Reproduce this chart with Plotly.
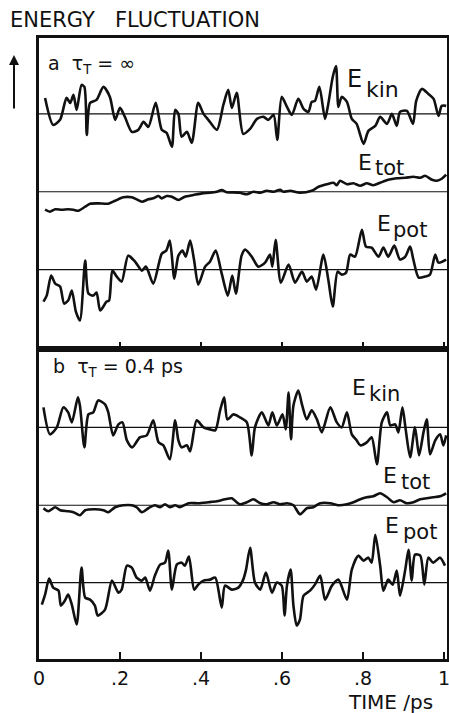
import plotly.graph_objects as go

# ---------------- data (time in ps, energy deviation in arbitrary units) ----------------
a_kin_t = [0.015,0.035,0.052,0.068,0.077,0.085,0.093,0.105,0.112,0.118,0.126,0.142,0.159,0.175,0.188,0.200,0.212,0.229,0.245,0.258,0.270,0.288,0.303,0.315,0.328,0.336,0.344,0.352,0.365,0.377,0.393,0.406,0.418,0.439,0.455,0.467,0.476,0.488,0.504,0.521,0.538,0.554,0.566,0.579,0.588,0.599,0.612,0.624,0.640,0.653,0.665,0.673,0.681,0.692,0.706,0.714,0.725,0.733,0.739,0.747,0.760,0.772,0.784,0.801,0.813,0.830,0.842,0.859,0.871,0.883,0.891,0.908,0.923,0.931,0.945,0.961,0.974,0.986,0.994,1.005]
a_kin_v = [16,-11,-6,16,11,19,4,29,27,-21,11,14,27,17,-6,6,-3,-18,-16,-8,-13,11,-16,-19,-33,4,0,-23,-18,-29,11,0,-6,-16,9,24,6,21,-20,-15,-5,-3,-6,-1,-26,17,7,-1,15,5,2,12,13,27,-5,10,37,48,7,17,12,-5,-10,-30,-17,-12,-3,-10,0,-12,2,3,-10,13,25,20,15,-2,8,8]

a_tot_t = [0.015,0.027,0.040,0.056,0.072,0.085,0.097,0.114,0.126,0.146,0.171,0.188,0.208,0.229,0.241,0.254,0.270,0.282,0.295,0.303,0.315,0.328,0.344,0.360,0.381,0.402,0.422,0.439,0.451,0.463,0.480,0.496,0.513,0.529,0.546,0.562,0.579,0.595,0.603,0.620,0.644,0.673,0.690,0.710,0.727,0.735,0.743,0.760,0.776,0.793,0.809,0.825,0.842,0.862,0.883,0.904,0.924,0.941,0.953,0.970,0.982,0.994,1.005]
a_tot_v = [-18,-20,-17.6,-18,-17.6,-18,-19,-15,-12,-11.6,-12,-9,-5.6,-5.6,-7.6,-10,-7.6,-6.6,-4.3,-6.6,-4.3,-5,-8.3,-5,-3.3,-1.6,-1,0,1.7,-0.6,-0.6,-1,-2.5,0,-1,1,0,2,0,1,-1,1,5,7.5,9,6.5,11,7.5,8.5,6,8.5,6.5,9,12,13.5,14,15,14,16,12,11,13,17]

a_pot_t = [0.011,0.019,0.030,0.040,0.052,0.062,0.072,0.081,0.091,0.101,0.114,0.122,0.134,0.142,0.151,0.167,0.173,0.181,0.192,0.204,0.220,0.237,0.254,0.264,0.282,0.303,0.314,0.323,0.334,0.344,0.354,0.362,0.373,0.383,0.393,0.410,0.422,0.436,0.451,0.466,0.477,0.486,0.500,0.509,0.525,0.541,0.558,0.570,0.576,0.584,0.597,0.616,0.632,0.649,0.661,0.673,0.684,0.702,0.714,0.725,0.737,0.747,0.758,0.768,0.780,0.797,0.807,0.821,0.838,0.850,0.862,0.877,0.891,0.904,0.916,0.924,0.937,0.953,0.965,0.978,0.986,1.005]
a_pot_v = [-32,-26,-6,-14,-17,-34,-31,-21,-42,-51,9,-24,-26,-23,-41,-32,-31,-1,-7,-12,14,8,-1,3,-14,16,19,29,-9,14,19,13,29,9,-15,3,8,19,-4,-26,-6,-24,14,20,13,3,7,15,3,30,-13,5,-13,-2,-12,-7,-20,15,-10,-37,-2,-5,-3,15,13,40,23,22,13,22,13,24,10,13,23,10,-8,-7,-5,15,7,10]

b_kin_t = [0.011,0.027,0.044,0.060,0.072,0.081,0.096,0.101,0.112,0.122,0.134,0.146,0.163,0.171,0.183,0.196,0.206,0.217,0.230,0.249,0.266,0.282,0.295,0.307,0.323,0.336,0.344,0.352,0.365,0.373,0.389,0.406,0.422,0.435,0.447,0.457,0.465,0.480,0.496,0.513,0.525,0.533,0.550,0.566,0.576,0.587,0.601,0.609,0.616,0.622,0.628,0.640,0.649,0.661,0.673,0.686,0.698,0.719,0.735,0.747,0.760,0.772,0.784,0.793,0.809,0.821,0.834,0.846,0.859,0.867,0.879,0.887,0.897,0.905,0.916,0.928,0.938,0.949,0.957,0.965,0.978,0.990,0.998,1.005]
b_kin_v = [20,-7,0,20,15,5,30,22,-20,13,15,27,23,15,-8,3,5,-13,-20,-10,-8,7,-15,-18,-32,7,-13,-20,-18,-24,7,0,-2,-3,17,30,8,13,10,5,-28,0,15,2,15,2,13,-2,35,-12,22,37,23,8,17,8,-5,20,5,0,15,-7,-13,-18,-15,-10,-37,5,15,2,3,-5,20,-2,-30,0,-28,-5,8,-27,-13,-7,-18,-8]

b_tot_t = [0.011,0.023,0.040,0.052,0.072,0.085,0.101,0.114,0.138,0.159,0.171,0.188,0.208,0.229,0.241,0.254,0.270,0.286,0.299,0.311,0.323,0.336,0.348,0.369,0.393,0.418,0.439,0.459,0.476,0.488,0.496,0.513,0.529,0.546,0.562,0.579,0.595,0.612,0.628,0.644,0.661,0.677,0.694,0.719,0.739,0.760,0.776,0.793,0.809,0.825,0.842,0.859,0.875,0.891,0.908,0.924,0.941,0.957,0.973,0.990,1.005]
b_tot_v = [-3,-6,-2,-5,-6,-7,-10,-5,-4,-5,-7,-2,0,0,-2,-7,-3,0,-2,1,-2,0,-2,2,2,3,4,6,7,3,1,3,6,2,1,3,1,2,0,-9,-3,-2,2,2,0,1,3,6,8,9,12,8,3,5,2,3,6,7,8,9,12]

b_pot_t = [0.007,0.015,0.025,0.035,0.048,0.054,0.064,0.072,0.081,0.093,0.105,0.114,0.126,0.138,0.145,0.163,0.180,0.196,0.204,0.217,0.229,0.241,0.254,0.262,0.274,0.286,0.299,0.311,0.319,0.328,0.340,0.352,0.360,0.370,0.383,0.393,0.406,0.422,0.435,0.451,0.459,0.476,0.492,0.504,0.511,0.521,0.533,0.546,0.560,0.575,0.587,0.599,0.606,0.612,0.621,0.628,0.636,0.644,0.653,0.669,0.681,0.694,0.706,0.723,0.739,0.760,0.772,0.788,0.801,0.813,0.821,0.830,0.842,0.850,0.862,0.873,0.883,0.891,0.904,0.912,0.920,0.928,0.941,0.951,0.961,0.973,0.990,1.002]
b_pot_v = [-22,-12,4,-5,-8,-23,-18,-12,-22,-42,15,-15,-17,-23,-33,-27,2,-10,-7,17,15,5,2,5,-8,7,18,20,32,-7,18,20,17,26,-7,-2,2,3,5,-25,-3,-7,-5,3,13,35,0,-7,10,-10,0,-3,-33,-3,13,-23,-43,-37,-13,-8,-2,7,-17,-3,3,-17,13,27,22,25,20,48,17,-8,3,-2,12,-13,13,33,2,28,27,-2,25,20,25,17]

x_tick_vals = [0, 0.2, 0.4, 0.6, 0.8, 1.0]
x_tick_text = ["0", ".2", ".4", ".6", ".8", "1"]

# ---------------- layout constants ----------------
W, H = 449, 713
L, R, T, B = 39, 2, 38, 54
PW, PH = W - L - R, H - T - B
FONT = "DejaVu Sans"
INK = "#111111"

# baseline offsets inside each panel (panel y range 0..311)
off_a = {"kin": 235, "tot": 157, "pot": 79}
off_b = {"kin": 232, "tot": 154, "pot": 76.5}

fig = go.Figure()

def add_curve(t, v, off, yaxis):
    fig.add_trace(go.Scatter(
        x=t, y=[off + d for d in v], mode="lines", yaxis=yaxis, xaxis="x",
        line=dict(color=INK, width=2.6, shape="spline", smoothing=0.7),
        hoverinfo="skip", showlegend=False))

for yax, off in (("y", off_a), ("y2", off_b)):
    for k in ("kin", "tot", "pot"):
        fig.add_shape(type="line", xref="x", yref=yax, x0=0, x1=1.007, y0=off[k], y1=off[k],
                      line=dict(color=INK, width=1.2))

add_curve(a_kin_t, a_kin_v, off_a["kin"], "y")
add_curve(a_tot_t, a_tot_v, off_a["tot"], "y")
add_curve(a_pot_t, a_pot_v, off_a["pot"], "y")
add_curve(b_kin_t, b_kin_v, off_b["kin"], "y2")
add_curve(b_tot_t, b_tot_v, off_b["tot"], "y2")
add_curve(b_pot_t, b_pot_v, off_b["pot"], "y2")

fig.update_layout(
    width=W, height=H, margin=dict(l=L, r=R, t=T, b=B, autoexpand=False),
    paper_bgcolor="white", plot_bgcolor="white",
    font=dict(family=FONT, color=INK),
    xaxis=dict(range=[0, 1.007], domain=[0, 1], anchor="y2", showgrid=False, zeroline=False,
               showline=True, linecolor=INK, linewidth=2.5, mirror=True, automargin=False,
               tickvals=x_tick_vals, ticktext=x_tick_text, ticks="inside", ticklen=7,
               tickwidth=1.5, tickcolor=INK, tickfont=dict(size=19, family=FONT, color=INK),
               ticklabeloverflow="allow"),
    xaxis2=dict(range=[0, 1.007], domain=[0, 1], anchor="y", overlaying="x", showgrid=False,
                zeroline=False, showline=True, linecolor=INK, linewidth=2.5, mirror=True,
                automargin=False,
                tickvals=x_tick_vals, ticks="inside", ticklen=7, tickwidth=1.5, tickcolor=INK,
                showticklabels=False),
    yaxis=dict(range=[0, 311], domain=[0.5, 1], showgrid=False, zeroline=False, automargin=False,
               showline=True, linecolor=INK, linewidth=2.5, mirror=True, showticklabels=False,
               ticks=""),
    yaxis2=dict(range=[0, 311], domain=[0, 0.5], showgrid=False, zeroline=False, automargin=False,
                showline=True, linecolor=INK, linewidth=2.5, mirror=True, showticklabels=False,
                ticks=""),
)
# invisible trace so the overlay axis of panel a is drawn
fig.add_trace(go.Scatter(x=[0.5], y=[-100], xaxis="x2", yaxis="y", mode="markers",
                         marker=dict(opacity=0), hoverinfo="skip", showlegend=False))

def P(x, y):
    return (x - L) / PW, (H - B - y) / PH

def text(s, x, y, size, xanchor="left"):
    px, py = P(x, y)
    fig.add_annotation(text=s, x=px, y=py, xref="paper", yref="paper", showarrow=False,
                       xanchor=xanchor, yanchor="middle", font=dict(size=size, family=FONT, color=INK))

text("ENERGY   FLUCTUATION", 8, 20, 21)
tx, ty = P(14, 55)
fig.add_annotation(text="", x=tx, y=ty, xref="paper", yref="paper", showarrow=True,
                   ax=0, ay=55, arrowhead=2, arrowsize=1, arrowwidth=2, arrowcolor=INK)

text("a  τ<sub>T</sub> = ∞", 46, 65, 19)
text("E", 345, 79, 24); text("kin", 364, 89, 22)
text("E", 356, 162, 22); text("tot", 373, 168, 21)
text("E", 375, 223, 22); text("pot", 391, 230, 21)

text("b  τ<sub>T</sub> = 0.4 ps", 51, 368, 19)
text("E", 350, 387, 22); text("kin", 367, 394, 21)
text("E", 381, 475, 22); text("tot", 399, 482, 21)
text("E", 383, 525, 22); text("pot", 401, 532, 21)

text("TIME /ps", 435, 702, 20, xanchor="right")

fig.write_html("out.html", config={"displayModeBar": False},
               post_script="document.body.style.margin='0';document.body.style.overflow='hidden';")
